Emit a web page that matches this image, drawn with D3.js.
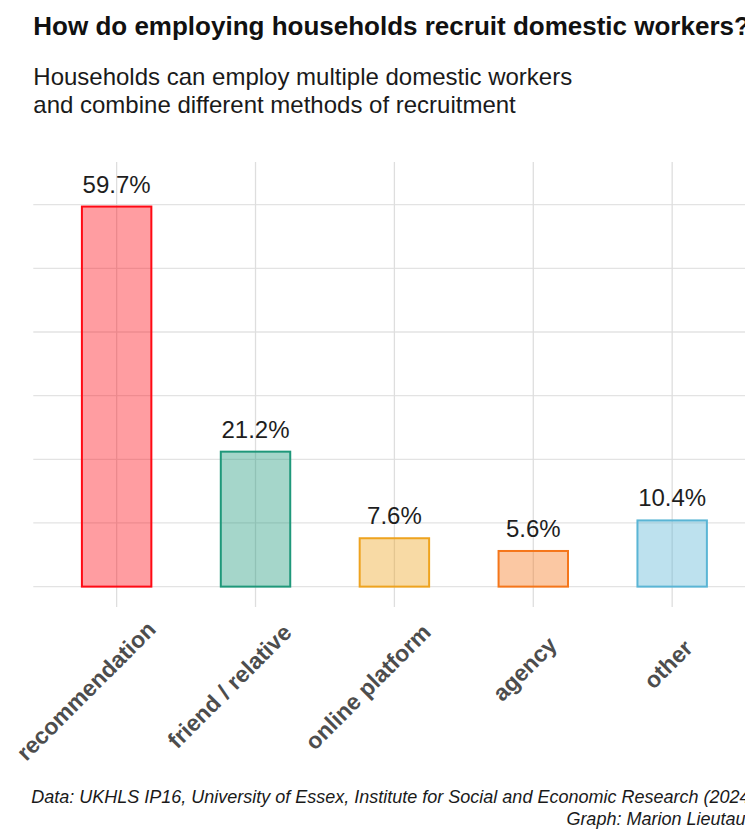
<!DOCTYPE html>
<html>
<head>
<meta charset="utf-8">
<script src="https://cdn.jsdelivr.net/npm/d3@7"></script>
<style>
  html, body { margin: 0; padding: 0; background: #ffffff; }
  svg { display: block; overflow: hidden; }
  text { font-family: "Liberation Sans", Arial, Helvetica, sans-serif; }
</style>
</head>
<body>
<svg id="chart" width="745" height="830"></svg>
<script>
// Recruitment methods of employing households (share of households, %)
const categories = ["recommendation", "friend / relative", "online platform", "agency", "other"];
const shares = [59.7, 21.2, 7.6, 5.6, 10.4];
const valueLabels = ["59.7%", "21.2%", "7.6%", "5.6%", "10.4%"];

// Outline colours per category; fills are the same hue, semi-transparent
const palette = ["#ff0a14", "#1f987a", "#eea31f", "#f5761a", "#5ab5d5"];

const titleText = "How do employing households recruit domestic workers?";
const subtitleLines = ["Households can employ multiple domestic workers",
                       "and combine different methods of recruitment"];
const captionLines = ["Data: UKHLS IP16, University of Essex, Institute for Social and Economic Research (2024)",
                      "Graph: Marion Lieutaud"];

const svg = d3.select("#chart");

// Panel extents
const panel = { left: 33.3, right: 755.5, top: 162, bottom: 607 };

const x = d3.scaleBand()
  .domain(categories)
  .range([panel.left, panel.right])
  .paddingInner(0.5)
  .paddingOuter(0.35);

const y = d3.scaleLinear()
  .domain([-3.2, 66.7])
  .range([panel.bottom, panel.top]);

// Grid
const grid = svg.append("g").attr("class", "grid");
grid.selectAll("line.h")
  .data(y.ticks(7).filter(t => t >= 0))
  .join("line")
  .attr("class", "h")
  .attr("x1", panel.left).attr("x2", panel.right)
  .attr("y1", d => y(d)).attr("y2", d => y(d))
  .attr("stroke", "#e3e3e3").attr("stroke-width", 1.3);

grid.selectAll("line.v")
  .data(categories)
  .join("line")
  .attr("class", "v")
  .attr("x1", d => x(d) + x.bandwidth() / 2).attr("x2", d => x(d) + x.bandwidth() / 2)
  .attr("y1", panel.top).attr("y2", panel.bottom)
  .attr("stroke", "#dedede").attr("stroke-width", 1.3);

// Bars
const rows = categories.map((c, i) => ({ cat: c, v: shares[i], label: valueLabels[i], col: palette[i] }));

svg.append("g").selectAll("rect")
  .data(rows)
  .join("rect")
  .attr("x", d => x(d.cat))
  .attr("width", x.bandwidth())
  .attr("y", d => y(d.v))
  .attr("height", d => y(0) - y(d.v))
  .attr("fill", d => d.col)
  .attr("fill-opacity", 0.4)
  .attr("stroke", d => d.col)
  .attr("stroke-width", 2);

// Value labels above bars
svg.append("g").selectAll("text")
  .data(rows)
  .join("text")
  .attr("x", d => x(d.cat) + x.bandwidth() / 2)
  .attr("y", d => y(d.v) - 14)
  .attr("text-anchor", "middle")
  .attr("font-size", 24)
  .attr("fill", "#1e1e1e")
  .text(d => d.label);

// Category axis with rotated labels
const xAxis = svg.append("g")
  .attr("transform", `translate(0,${panel.bottom})`)
  .call(d3.axisBottom(x).tickSize(0).tickPadding(0));
xAxis.select(".domain").remove();
xAxis.selectAll(".tick text")
  .attr("font-family", "Liberation Sans, Arial, sans-serif")
  .attr("font-size", 23)
  .attr("font-weight", "bold")
  .attr("fill", "#4d4d4d")
  .attr("text-anchor", "end")
  .attr("dy", 0)
  .attr("y", 0)
  .each(function () {
    const el = d3.select(this);
    const L = this.getComputedTextLength();
    el.attr("x", 0.207 * L)
      .attr("transform", "translate(13.5,51) rotate(-45)");
  });

// Title, subtitle, caption
svg.append("text")
  .attr("x", panel.left).attr("y", 35)
  .attr("font-size", 26).attr("font-weight", "bold").attr("fill", "#111")
  .text(titleText);

svg.append("g").selectAll("text")
  .data(subtitleLines)
  .join("text")
  .attr("x", panel.left)
  .attr("y", (d, i) => 85 + i * 28)
  .attr("font-size", 24).attr("fill", "#1a1a1a")
  .text(d => d);

svg.append("g").selectAll("text")
  .data(captionLines)
  .join("text")
  .attr("x", panel.right)
  .attr("y", (d, i) => 803 + i * 22)
  .attr("text-anchor", "end")
  .attr("font-size", 18).attr("font-style", "italic").attr("fill", "#1a1a1a")
  .text(d => d);
</script>
</body>
</html>
